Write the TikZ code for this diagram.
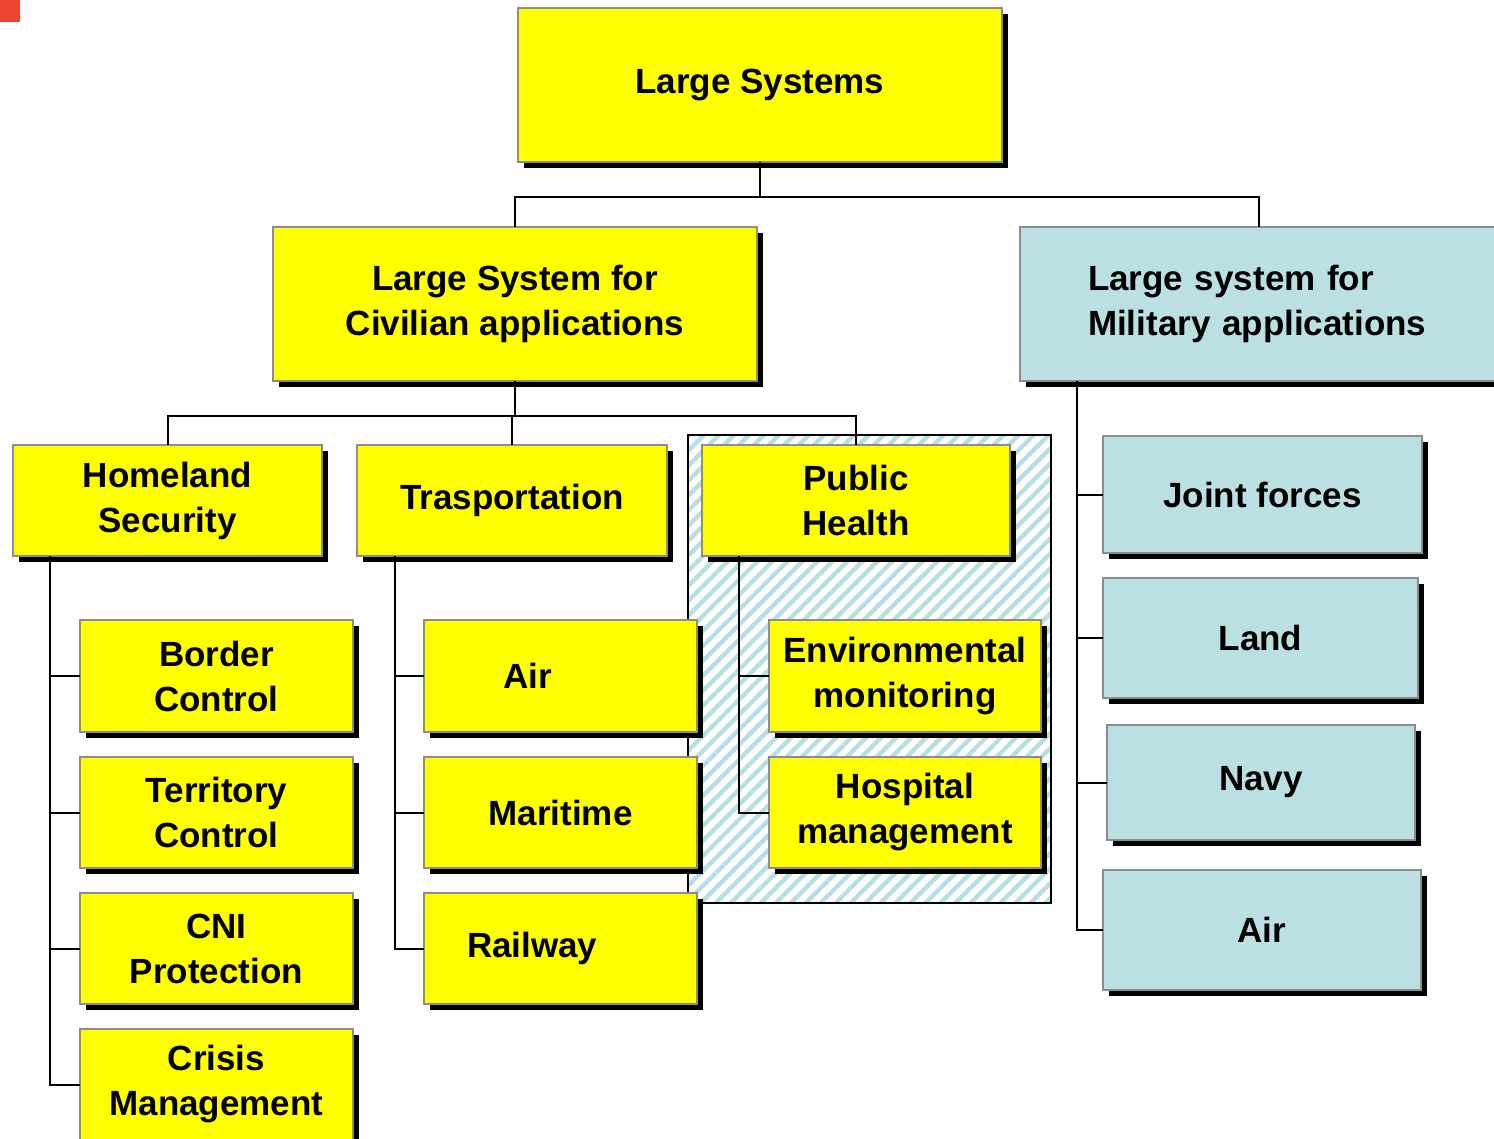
\documentclass[tikz,border=0pt]{standalone}
\usepackage{fontspec}
\setmainfont{Liberation Sans}
\usetikzlibrary{shadows,patterns.meta}

\definecolor{boxyellow}{HTML}{FFFF00}
\definecolor{boxblue}{HTML}{BAE0E3}
\definecolor{boxedge}{HTML}{8C8C8C}
\definecolor{hatchblue}{HTML}{B6DFE4}
\definecolor{cornerred}{HTML}{EE4433}

\begin{document}
\begin{tikzpicture}[x=0.5pt,y=-0.5pt]
        \tikzstyle{every node}=[font=\fontsize{17.5}{22.5}\selectfont\bfseries]
        \tikzstyle{sysbox}=[draw=boxedge, line width=1.2pt, fill=boxyellow, anchor=north west,
            align=center, inner sep=0pt, outer sep=0pt,
            drop shadow={shadow xshift=3pt, shadow yshift=-3.2pt, fill=black, opacity=1}]
        \tikzstyle{milbox}=[sysbox, fill=boxblue]
        \tikzstyle{link}=[draw=black, line width=1pt]
        \useasboundingbox (0,0) rectangle (1494,1139);
        \clip (0,0) rectangle (1494,1139);
        \fill[cornerred] (0,0) rectangle (20,22);
        % public health area
        \draw[line width=0.7pt, pattern={Lines[angle=45,distance=5.3pt,line width=2.2pt]},
            pattern color=hatchblue] (688,435) rectangle (1051,903);
        % first levels
        \node[sysbox, minimum width=242pt, minimum height=77pt] (top) at (518,8) {Large Systems};
        \node[sysbox, minimum width=242pt, minimum height=77pt] (civ) at (273,227)
            {Large System for\\Civilian applications};
        \node[milbox, minimum width=239pt, minimum height=77pt, align=left, text width=171pt,
            inner xsep=34pt] (mil) at (1020,227) {Large system for\\Military applications};
        \node[sysbox, minimum width=154.5pt, minimum height=55.5pt] (home) at (13,445)
            {Homeland\\Security};
        \node[sysbox, minimum width=155pt, minimum height=55.5pt] (trans) at (357,445)
            {Trasportation};
        \node[sysbox, minimum width=154pt, minimum height=55.5pt] (pub) at (702,445)
            {Public\\Health};
        % homeland security
        \node[sysbox, minimum width=136.5pt, minimum height=56pt] (border) at (80,620)
            {Border\\Control};
        \node[sysbox, minimum width=136.5pt, minimum height=55.5pt] (terr) at (80,757)
            {Territory\\Control};
        \node[sysbox, minimum width=136.5pt, minimum height=55.5pt] (cni) at (80,893)
            {CNI\\Protection};
        \node[sysbox, minimum width=136.5pt, minimum height=55.5pt] (crisis) at (80,1029)
            {Crisis\\Management};
        % transportation
        \node[sysbox, minimum width=136.5pt, minimum height=56pt, align=left, text width=57.5pt,
            inner xsep=39.5pt] (air) at (424,620) {Air};
        \node[sysbox, minimum width=136.5pt, minimum height=55.5pt] (mar) at (424,757)
            {Maritime};
        \node[sysbox, minimum width=136.5pt, minimum height=55.5pt, align=left, text width=93.5pt,
            inner xsep=21.5pt] (rail) at (424,893) {Railway};
        % public health
        \node[sysbox, minimum width=136pt, minimum height=56pt] (env) at (769,620)
            {Environmental\\monitoring};
        \node[sysbox, minimum width=136pt, minimum height=55.5pt] (hosp) at (769,757)
            {Hospital\\management};
        % military
        \node[milbox, minimum width=159.5pt, minimum height=58.5pt] (joint) at (1103,436)
            {Joint forces};
        \node[milbox, minimum width=157.5pt, minimum height=60pt] (land) at (1103,578)
            {Land};
        \node[milbox, minimum width=154pt, minimum height=57.5pt] (navy) at (1107,725)
            {Navy};
        \node[milbox, minimum width=159pt, minimum height=60pt] (mair) at (1103,870)
            {Air};
        % connectors
        \coordinate (j1) at (760,197);
        \coordinate (j2) at (515,416);
        \draw[link] (top.south) -- (j1);
        \draw[link] (civ.north) |- (j1) -| (mil.north);
        \draw[link] (civ.south) -- (j2);
        \draw[link] (home.north) |- (j2) -| (pub.north);
        \draw[link] (trans.north) |- (j2);
        \foreach \c in {border,terr,cni,crisis}
            \draw[link] (home.south west) ++(37,0) |- (\c.west);
        \foreach \c in {air,mar,rail}
            \draw[link] (trans.south west) ++(38,0) |- (\c.west);
        \foreach \c in {env,hosp}
            \draw[link] (pub.south west) ++(37,0) |- (\c.west);
        \foreach \c in {joint,land,navy,mair}
            \draw[link] (mil.south west) ++(57,0) |- (\c.west);
    \end{tikzpicture}
\end{document}
